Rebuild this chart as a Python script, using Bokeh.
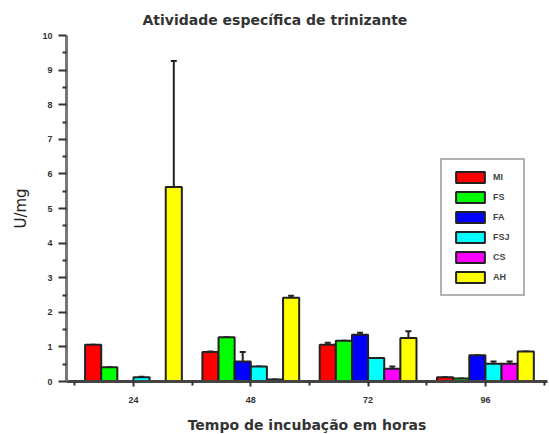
from bokeh.plotting import figure
from bokeh.models import ColumnDataSource, FixedTicker, Whisker, Range1d, Legend, LegendItem, Title
from bokeh.embed import file_html
from bokeh.resources import INLINE

hours = [24, 48, 72, 96]
series = ["MI", "FS", "FA", "FSJ", "CS", "AH"]
colors = ["#FF0000", "#00FF00", "#0000FF", "#00FFFF", "#FF00FF", "#FFFF00"]
MI  = [1.06, 0.85, 1.06, 0.12]
FS  = [0.41, 1.28, 1.18, 0.09]
FA  = [0.00, 0.58, 1.35, 0.76]
FSJ = [0.12, 0.43, 0.68, 0.51]
CS  = [0.00, 0.06, 0.37, 0.51]
AH  = [5.62, 2.42, 1.26, 0.87]
MI_err  = [0.00, 0.02, 0.06, 0.00]
FS_err  = [0.00, 0.00, 0.00, 0.00]
FA_err  = [0.00, 0.27, 0.06, 0.00]
FSJ_err = [0.02, 0.00, 0.00, 0.07]
CS_err  = [0.00, 0.00, 0.06, 0.07]
AH_err  = [3.64, 0.06, 0.19, 0.00]
values = [MI, FS, FA, FSJ, CS, AH]
errors = [MI_err, FS_err, FA_err, FSJ_err, CS_err, AH_err]
y_ticks = list(range(0, 11))
y_minor = [i + 0.5 for i in range(10)]
x_minor = [12, 36, 60, 84, 108]

p = figure(frame_width=481, frame_height=346, output_backend="svg", toolbar_location=None,
           x_range=Range1d(10.3, 108.7), y_range=Range1d(0, 10),
           min_border_left=66, min_border_right=2, min_border_top=35, min_border_bottom=10)
p.outline_line_color = None
p.xgrid.visible = False
p.ygrid.visible = False

p.title = Title(text="Atividade específica de trinizante", align="left", offset=76,
                text_font="DejaVu Sans", text_font_style="bold", text_font_size="14px",
                text_color="#333333", standoff=16)

bw = 3.3
items = []
for i, (name, col, vals, errs) in enumerate(zip(series, colors, values, errors)):
    off = (i - 2.5) * bw
    xs = [h + off for h in hours]
    src = ColumnDataSource(dict(x=xs, top=vals, up=[v + e for v, e in zip(vals, errs)]))
    r = p.vbar(x="x", top="top", width=bw, source=src, fill_color=col,
               line_color="#222222", line_width=2)
    items.append(LegendItem(label=name, renderers=[r]))
    w = Whisker(base="x", lower="top", upper="up", source=src, dimension="height",
                line_color="#222222", line_width=2, lower_head=None)
    w.upper_head.size = 6
    w.upper_head.line_width = 2
    w.upper_head.line_color = "#222222"
    p.add_layout(w)

leg = Legend(items=items, location=(374, 85), border_line_color="#666666", border_line_width=2,
             glyph_width=36, glyph_height=14, spacing=6, padding=10, margin=0,
             label_text_font="Liberation Sans", label_text_font_size="9px",
             label_text_font_style="bold", label_text_color="#444444", label_standoff=5,
             background_fill_color="white")
p.add_layout(leg)

for ax in (p.xaxis[0], p.yaxis[0]):
    ax.axis_line_width = 3
    ax.major_tick_line_width = 2
    ax.minor_tick_line_width = 2
    ax.major_tick_in = 0
    ax.minor_tick_in = 0
    ax.major_label_text_font = "Liberation Sans"
    ax.major_label_text_font_style = "bold"
    ax.major_label_text_font_size = "9px"
    ax.major_label_text_color = "#333333"
    ax.axis_label_text_font = "DejaVu Sans"
    ax.axis_label_text_color = "#222222"
    ax.major_tick_line_color = "#333333"
    ax.minor_tick_line_color = "#333333"

p.yaxis[0].ticker = FixedTicker(ticks=y_ticks, minor_ticks=y_minor)
p.yaxis[0].axis_line_color = "#777777"
p.yaxis[0].major_tick_out = 8
p.yaxis[0].minor_tick_out = 4
p.yaxis[0].major_label_standoff = 6
p.yaxis[0].axis_label = "U/mg"
p.yaxis[0].axis_label_text_font_size = "15px"
p.yaxis[0].axis_label_text_font_style = "normal"
p.yaxis[0].axis_label_standoff = 9

p.xaxis[0].ticker = FixedTicker(ticks=hours, minor_ticks=x_minor)
p.xaxis[0].axis_line_color = "#444444"
p.xaxis[0].major_tick_out = 5
p.xaxis[0].minor_tick_out = 4
p.xaxis[0].major_label_standoff = 10
p.xaxis[0].axis_label = "Tempo de incubação em horas"
p.xaxis[0].axis_label_text_font_size = "14px"
p.xaxis[0].axis_label_text_font_style = "bold"
p.xaxis[0].axis_label_text_color = "#333333"
p.xaxis[0].axis_label_standoff = 11

open("out.html", "w").write(file_html(p, INLINE))
